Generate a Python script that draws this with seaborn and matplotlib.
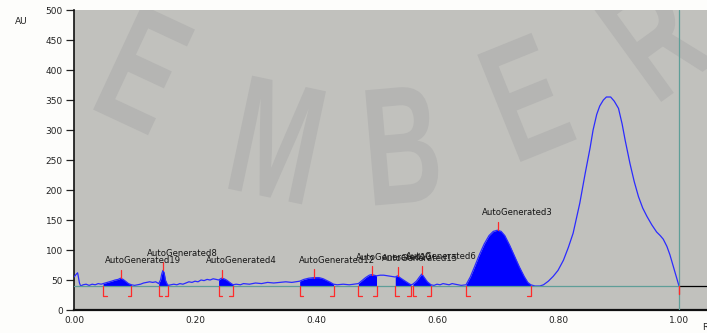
import numpy as np
import pandas as pd
import matplotlib
matplotlib.use("Agg")
import matplotlib.pyplot as plt
import matplotlib.transforms as mtransforms
from matplotlib.textpath import TextPath
from matplotlib.patches import PathPatch
from matplotlib.font_manager import FontProperties
import seaborn as sns

# Densitometric trace (Rf vs absorbance units)
rf = [0.000, 0.004, 0.006, 0.009, 0.011, 0.015, 0.020, 0.025, 0.030, 0.035,
      0.040, 0.045, 0.048, 0.055, 0.062, 0.068, 0.073, 0.077, 0.081, 0.085,
      0.090, 0.095, 0.100, 0.105, 0.110, 0.115, 0.120, 0.125, 0.130, 0.135,
      0.140, 0.143, 0.145, 0.147, 0.149, 0.151, 0.154, 0.156, 0.160, 0.165,
      0.170, 0.175, 0.180, 0.185, 0.190, 0.195, 0.200, 0.205, 0.210, 0.215,
      0.220, 0.225, 0.230, 0.235, 0.239, 0.244, 0.248, 0.252, 0.256, 0.260,
      0.263, 0.268, 0.275, 0.280, 0.290, 0.300, 0.310, 0.320, 0.330, 0.340,
      0.350, 0.360, 0.373, 0.380, 0.388, 0.397, 0.405, 0.412, 0.418, 0.424,
      0.429, 0.435, 0.445, 0.455, 0.462, 0.470, 0.476, 0.482, 0.488, 0.492,
      0.496, 0.500, 0.506, 0.512, 0.518, 0.524, 0.531, 0.535, 0.540, 0.546,
      0.552, 0.557, 0.560, 0.566, 0.571, 0.575, 0.579, 0.584, 0.590, 0.595,
      0.600, 0.605, 0.610, 0.615, 0.620, 0.625, 0.630, 0.635, 0.640, 0.648,
      0.655, 0.662, 0.670, 0.678, 0.686, 0.693, 0.700, 0.706, 0.712, 0.720,
      0.728, 0.736, 0.744, 0.750, 0.755, 0.762, 0.770, 0.776, 0.784, 0.792,
      0.800, 0.809, 0.817, 0.825, 0.836, 0.845, 0.853, 0.858, 0.864, 0.869,
      0.875, 0.880, 0.887, 0.893, 0.900, 0.906, 0.911, 0.919, 0.926, 0.933,
      0.940, 0.947, 0.955, 0.963, 0.969, 0.974, 0.980, 0.985, 0.993, 1.000]
au = [55, 60, 62, 45, 40, 42, 43, 41, 43, 42,
      44, 43, 44, 46, 48, 50, 51, 53, 51, 48,
      44, 42, 41, 42, 43, 45, 46, 47, 46, 47,
      44, 50, 60, 66, 62, 50, 43, 41, 42, 43,
      42, 44, 43, 45, 47, 46, 48, 47, 50, 49,
      51, 50, 52, 51, 50, 53, 52, 50, 47, 44,
      42, 43, 42, 44, 43, 45, 44, 46, 45, 46,
      47, 46, 48, 51, 53, 54, 54, 52, 49, 46,
      43, 42, 43, 42, 43, 44, 49, 54, 58, 59,
      58, 57, 58, 58, 57, 56, 55, 57, 53, 49,
      45, 42, 43, 48, 55, 60, 54, 47, 42, 41,
      43, 42, 44, 43, 42, 44, 43, 42, 41, 42,
      55, 72, 92, 110, 124, 131, 133, 131, 124, 108,
      90, 72, 56, 46, 42, 40, 40, 42, 48, 56,
      66, 83, 104, 128, 178, 228, 270, 300, 326, 340,
      350, 355, 355, 348, 336, 310, 283, 244, 214, 189,
      170, 156, 142, 130, 124, 118, 106, 92, 64, 40]

# Integrated spots: window limits, apex position and name
peak_start = [0.048, 0.140, 0.239, 0.373, 0.470, 0.531, 0.560, 0.648]
peak_end = [0.095, 0.156, 0.263, 0.429, 0.500, 0.557, 0.590, 0.755]
peak_apex = [0.077, 0.147, 0.244, 0.397, 0.492, 0.535, 0.575, 0.700]
peak_names = ["AutoGenerated19", "AutoGenerated8", "AutoGenerated4",
              "AutoGenerated12", "AutoGenerated10", "AutoGenerated15",
              "AutoGenerated6", "AutoGenerated3"]

baseline_au = 40
front_rf = 1.00
y_ticks = [0, 50, 100, 150, 200, 250, 300, 350, 400, 450, 500]
x_ticks = [0.0, 0.2, 0.4, 0.6, 0.8, 1.0]
x_tick_labels = ["0.00", "0.20", "0.40", "0.60", "0.80", "1.00"]

sns.set_style("ticks")
plt.rcParams["font.family"] = ["DejaVu Sans"]

W, H = 707, 333
fig = plt.figure(figsize=(W / 100, H / 100), dpi=100)
fig.patch.set_facecolor("#fdfdfb")
ax = fig.add_axes([74 / W, 23 / H, 665.5 / W, 300 / H])
ax.set_facecolor("#c1c1bd")
ax.set_xlim(0, 1.1)
ax.set_ylim(0, 500)

# faint condensed watermark lettering behind the trace (pixel placement)
wm_font = FontProperties(family="Liberation Sans", weight="bold")
for ch, px, py, rot in [("E", 145, 70, -25), ("M", 277, 140, -12),
                        ("B", 403, 145, 5), ("E", 527, 97, 22),
                        ("R", 655, 35, 36)]:
    tp = TextPath((0, 0), ch, size=1, prop=wm_font)
    ext = tp.get_extents()
    cx, cy = (ext.x0 + ext.x1) / 2, (ext.y0 + ext.y1) / 2
    tr = (mtransforms.Affine2D().translate(-cx, -cy).scale(108, 168)
          .rotate_deg(rot).translate(px, H - py))
    patch = PathPatch(tp, transform=tr, facecolor="#b5b5b3", lw=0,
                      zorder=0.5)
    ax.add_patch(patch)
    patch.set_transform(tr)

df = pd.DataFrame({"Rf": rf, "AU": au})

# filled peak areas above the baseline
for s, e in zip(peak_start, peak_end):
    m = (df["Rf"] >= s - 1e-9) & (df["Rf"] <= e + 1e-9)
    ax.fill_between(df["Rf"][m], baseline_au, df["AU"][m],
                    color="#0000ff", lw=0, zorder=2)

sns.lineplot(data=df, x="Rf", y="AU", ax=ax, color="#2b2bff", lw=0.9,
             estimator=None, sort=False, zorder=3)

# baseline and solvent front
teal = "#5f9e98"
red = "#ff2a2a"
ax.plot([0, front_rf], [baseline_au, baseline_au], color=teal, lw=0.9, zorder=4)
ax.plot([front_rf, 1.1], [baseline_au, baseline_au], color="black", lw=0.9, zorder=4)
ax.axvline(front_rf, color=teal, lw=0.9, zorder=4)
ax.plot([front_rf, front_rf], [baseline_au, 27], color=red, lw=1.0, zorder=5)

foot = 0.006
low = 24
for s, e, a, name in zip(peak_start, peak_end, peak_apex, peak_names):
    ax.plot([s + foot, s, s], [low, low, baseline_au], color=red, lw=0.9, zorder=5)
    ax.plot([e - foot, e, e], [low, low, baseline_au], color=red, lw=0.9, zorder=5)
    h = np.interp(a, rf, au)
    ax.plot([a, a], [h, h + 14], color=red, lw=0.9, zorder=5)
    ax.text(a - 0.026, h + 29, name, ha="left", va="center",
            fontsize=6.1, color="#151515", zorder=6)

ax.set_xticks(x_ticks)
ax.set_xticklabels(x_tick_labels)
ax.set_yticks(y_ticks)
ax.tick_params(axis="x", length=0, pad=4, labelsize=6.5, labelcolor="#222222")
ax.tick_params(axis="y", length=6, width=0.9, pad=2, labelsize=6.5,
               labelcolor="#222222", color="#222222")
ax.set_xlabel("")
ax.set_ylabel("")
for side in ("top", "right"):
    ax.spines[side].set_visible(False)
ax.spines["left"].set_linewidth(1.2)
ax.spines["left"].set_color("#111111")
ax.spines["bottom"].set_linewidth(1.6)
ax.spines["bottom"].set_color("#111111")

fig.text(21 / W, 1 - 21 / H, "AU", ha="center", va="center", fontsize=6.5,
         color="#222222")
fig.text(702 / W, 1 - 328 / H, "Rf", ha="left", va="center", fontsize=6.5,
         color="#222222")

fig.savefig("out.png", dpi=100, facecolor=fig.get_facecolor())
